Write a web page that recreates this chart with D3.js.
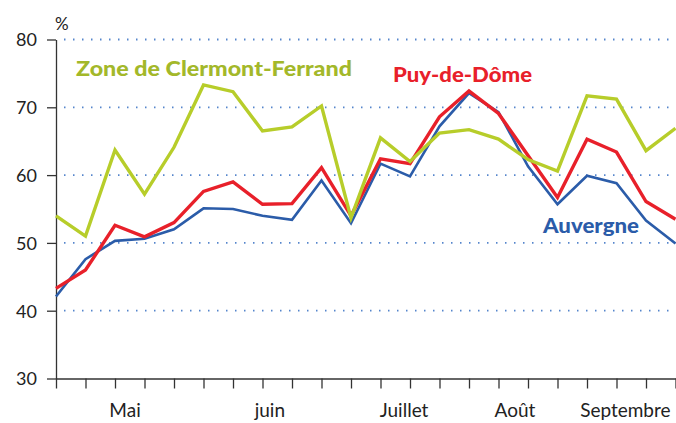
<!DOCTYPE html>
<html lang="fr">

<head>
    <meta charset="UTF-8">
    <script src="https://cdn.jsdelivr.net/npm/d3@7"></script>
    <title>Taux d'occupation</title>
    <style>
        body {
            margin: 0;
            background: white;
        }

        .axis text {
            font-family: Lato, "Open Sans", sans-serif;
            font-size: 18px;
            fill: #222;
        }

        .axis .mois {
            font-size: 19px;
        }

        .axis path,
        .axis line {
            stroke: #333;
            stroke-width: 1.3px;
        }

        .grid line {
            stroke: #5585cc;
            stroke-width: 1.8px;
            stroke-dasharray: 1.5 7.5;
        }

        .serie {
            fill: none;
            stroke-linejoin: miter;
        }

        .label {
            font-family: Lato, "Open Sans", sans-serif;
            font-weight: 900;
        }
    </style>
</head>

<body>
    <div class="fig"></div>

    <script>
        // semaines (une valeur par semaine, de fin avril à fin septembre)
        const semaines = d3.range(22);

        const clermont = [54.0, 51.0, 63.7, 57.2, 64.1, 73.3, 72.3, 66.5, 67.1, 70.2, 53.7,
            65.5, 62.0, 66.2, 66.7, 65.3, 62.3, 60.6, 71.7, 71.2, 63.6, 66.9];
        const puyDeDome = [43.3, 46.0, 52.6, 50.9, 53.0, 57.6, 59.0, 55.7, 55.8, 61.1, 54.0,
            62.4, 61.7, 68.6, 72.4, 69.1, 62.9, 56.7, 65.3, 63.4, 56.1, 53.5];
        const auvergne = [42.1, 47.6, 50.3, 50.6, 52.0, 55.1, 55.0, 54.0, 53.4, 59.2, 52.9,
            61.7, 59.8, 67.2, 72.1, 69.3, 61.3, 55.7, 59.9, 58.8, 53.3, 49.9];

        const yTicks = [30, 40, 50, 60, 70, 80];
        const mois = ["Mai", "juin", "Juillet", "Août", "Septembre"];
        const moisSemaine = [2.34, 7.25, 11.8, 15.56, 19.3];

        const width = 676;
        const height = 423;

        const svg = d3.select(".fig").append("svg")
            .attr("width", width)
            .attr("height", height);

        const x = d3.scaleLinear().domain([0, 21]).range([56, 675.5]);
        const y = d3.scaleLinear().domain([30, 80]).range([378.5, 39.5]);

        // grille pointillée
        svg.append("g").attr("class", "grid")
            .selectAll("line")
            .data(yTicks.slice(1))
            .enter()
            .append("line")
            .attr("x1", 64)
            .attr("x2", width)
            .attr("y1", d => y(d))
            .attr("y2", d => y(d));

        // axe Y
        svg.append("g").attr("class", "axis")
            .attr("transform", `translate(${x(0)},0)`)
            .call(d3.axisLeft(y).tickValues(yTicks).tickSize(9).tickSizeOuter(0).tickPadding(10))
            .call(g => g.selectAll("text").attr("dy", "0.36em"));

        // axe X
        svg.append("g").attr("class", "axis")
            .attr("transform", `translate(0,${y(30)})`)
            .call(d3.axisBottom(x).tickValues(semaines).tickSize(10).tickSizeOuter(0).tickFormat(""));

        svg.append("g").attr("class", "axis")
            .selectAll("text")
            .data(mois)
            .enter()
            .append("text")
            .attr("class", "mois")
            .attr("x", (d, i) => x(moisSemaine[i]))
            .attr("y", 417)
            .attr("text-anchor", "middle")
            .text(d => d);

        svg.append("text")
            .attr("x", 55)
            .attr("y", 30)
            .style("font-family", "Lato, sans-serif")
            .style("font-size", "17px")
            .style("fill", "#222")
            .text("%");

        const line = d3.line()
            .x((d, i) => x(semaines[i]))
            .y(d => y(d));

        const series = [
            { values: auvergne, color: "#2b5ca9", w: 2.6 },
            { values: puyDeDome, color: "#e8202a", w: 3.4 },
            { values: clermont, color: "#b7cd2a", w: 3.4 }
        ];

        svg.selectAll(".serie")
            .data(series)
            .enter()
            .append("path")
            .attr("class", "serie")
            .attr("d", d => line(d.values))
            .attr("stroke", d => d.color)
            .attr("stroke-width", d => d.w);

        // étiquettes des séries
        const labels = [
            { text: "Zone de Clermont-Ferrand", x: 76, y: 76, len: 276, color: "#a3b82a" },
            { text: "Puy-de-Dôme", x: 393, y: 82, len: 139, color: "#e8202a" },
            { text: "Auvergne", x: 543, y: 233, len: 96, color: "#2b5ca9" }
        ];

        svg.selectAll(".label")
            .data(labels)
            .enter()
            .append("text")
            .attr("class", "label")
            .attr("x", d => d.x)
            .attr("y", d => d.y)
            .attr("textLength", d => d.len)
            .attr("lengthAdjust", "spacingAndGlyphs")
            .style("font-size", "20px")
            .style("fill", d => d.color)
            .text(d => d.text);
    </script>
</body>

</html>
